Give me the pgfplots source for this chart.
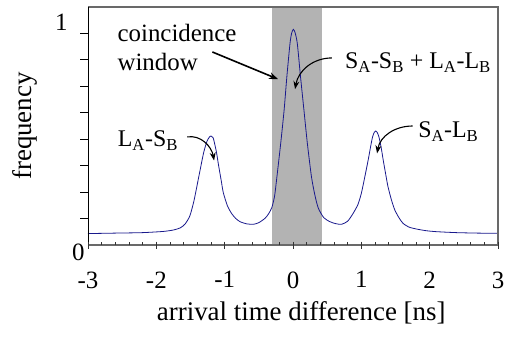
\documentclass[border=0pt]{standalone}
\usepackage{pgfplots}
\pgfplotsset{compat=1.18}
\usepackage{fontspec}
\setmainfont{Liberation Serif}
\usetikzlibrary{arrows.meta}
\definecolor{curve}{RGB}{25,25,140}
\definecolor{band}{RGB}{179,179,179}
\definecolor{frame}{RGB}{105,105,105}
\pgfplotstableread{
x y
-3.00 0.048
-2.60 0.050
-2.20 0.052
-1.90 0.057
-1.75 0.063
-1.65 0.072
-1.58 0.088
-1.51 0.122
-1.45 0.185
-1.38 0.285
-1.31 0.385
-1.26 0.435
-1.22 0.455
-1.20 0.458
-1.17 0.451
-1.155 0.436
-1.12 0.390
-1.09 0.336
-1.05 0.270
-1.02 0.220
-0.96 0.165
-0.90 0.133
-0.84 0.112
-0.775 0.098
-0.68 0.089
-0.58 0.087
-0.50 0.094
-0.41 0.112
-0.36 0.130
-0.31 0.157
-0.27 0.205
-0.24 0.275
-0.18 0.427
-0.13 0.567
-0.09 0.707
-0.044 0.847
-0.02 0.890
0.005 0.906
0.03 0.893
0.063 0.847
0.11 0.707
0.16 0.567
0.21 0.427
0.27 0.287
0.32 0.210
0.37 0.155
0.45 0.115
0.54 0.098
0.62 0.090
0.71 0.087
0.80 0.100
0.88 0.133
0.95 0.170
1.00 0.217
1.05 0.285
1.10 0.357
1.14 0.420
1.165 0.455
1.19 0.474
1.21 0.479
1.23 0.474
1.257 0.455
1.29 0.410
1.32 0.357
1.355 0.300
1.39 0.245
1.44 0.190
1.49 0.147
1.55 0.115
1.61 0.091
1.70 0.075
1.81 0.067
1.95 0.060
2.10 0.056
2.39 0.052
2.70 0.050
3.00 0.049
}\curvedata
\begin{document}
\begin{tikzpicture}
\begin{axis}[
  scale only axis, width=410bp, height=238bp,
  xmin=-3, xmax=3, ymin=0, ymax=1,
  axis line style={draw=none},
  clip=false,
  tick pos=left,
  major tick length=0pt, minor tick length=0pt,
  xtick={-3,-2,-1,0,1,2,3}, xticklabels={-3,-2,-1,0,1,2,3},
  ytick={0,0.935}, yticklabels={\raisebox{-7bp}[\height][\depth]{0},1\hspace*{17bp}},
  tick label style={font=\fontsize{25}{30}\selectfont},
  /pgf/number format/assume math mode=true,
  xticklabel style={yshift=-23bp},
  xlabel={arrival time difference [ns]},
  ylabel={frequency},
  label style={font=\fontsize{27}{32}\selectfont},
  xlabel style={at={(axis description cs:0.52,-0.286)}, anchor=center},
  ylabel style={at={(axis description cs:-0.154,0.5)}, anchor=center},
]
\fill[band] (axis cs:-0.31,0) rectangle (axis cs:0.42,1);
\addplot[curve, line width=0.8bp, smooth, tension=0.4, mark=none] table[x=x,y=y] {\curvedata};
% frame
\draw[frame, line width=1.2bp] (axis cs:-3,1) -- (axis cs:3,1) -- (axis cs:3,0);
\draw[frame, line width=2bp] (axis cs:-3,0) -- (axis cs:3,0);
\draw[black, line width=1bp] (axis cs:-3,0) -- (axis cs:-3,1);
% ticks
\pgfplotsinvokeforeach{-3,-2,-1,0,1,2,3}{\draw[black!80, line width=1bp] ([yshift=3.5bp]axis cs:#1,0) -- ([yshift=-3.5bp]axis cs:#1,0);}
\pgfplotsinvokeforeach{-2.8,-2.6,-2.4,-2.2,-1.8,-1.6,-1.4,-1.2,-0.8,-0.6,-0.4,-0.2,0.2,0.4,0.6,0.8,1.2,1.4,1.6,1.8,2.2,2.4,2.6,2.8}{\draw[black!80, line width=0.8bp] (axis cs:#1,0) -- ([yshift=3.5bp]axis cs:#1,0);}
\pgfplotsinvokeforeach{0.1111,0.2222,0.3333,0.4444,0.5556,0.6667,0.7778,0.8889}{\draw[black, line width=0.8bp] (axis cs:-3,#1) -- ([xshift=-8bp]axis cs:-3,#1);}
% annotations
\node[anchor=west, align=left, font=\fontsize{25}{29}\selectfont, inner sep=0pt] at (axis cs:-2.57,0.83) {coincidence\\window};
\draw[line width=1.6bp, -{Stealth[length=9bp,width=7bp]}] (axis cs:-1.18,0.811) -- (axis cs:-0.22,0.697);
\node[anchor=west, font=\fontsize{24}{28}\selectfont, inner sep=0pt] at (axis cs:0.76,0.765) {S\textsubscript{A}-S\textsubscript{B} + L\textsubscript{A}-L\textsubscript{B}};
\draw[line width=1.1bp, -{Stealth[length=8bp,width=6bp]}] (axis cs:0.57,0.786) to[out=180,in=80] (axis cs:0.03,0.655);
\node[anchor=west, font=\fontsize{24}{28}\selectfont, inner sep=0pt] at (axis cs:1.83,0.475) {S\textsubscript{A}-L\textsubscript{B}};
\draw[line width=1.1bp, -{Stealth[length=8bp,width=6bp]}] (axis cs:1.75,0.50) to[out=180,in=80] (axis cs:1.23,0.385);
\node[anchor=east, font=\fontsize{24}{28}\selectfont, inner sep=0pt] at (axis cs:-1.68,0.44) {L\textsubscript{A}-S\textsubscript{B}};
\draw[line width=1.1bp, -{Stealth[length=8bp,width=6bp]}] (axis cs:-1.55,0.454) to[out=10,in=100] (axis cs:-1.155,0.355);
\end{axis}
\pgfresetboundingbox
\path[use as bounding box] ([xshift=-88bp,yshift=-91bp]current axis.south west) rectangle ([xshift=12bp,yshift=7bp]current axis.north east);
\end{tikzpicture}
\end{document}
